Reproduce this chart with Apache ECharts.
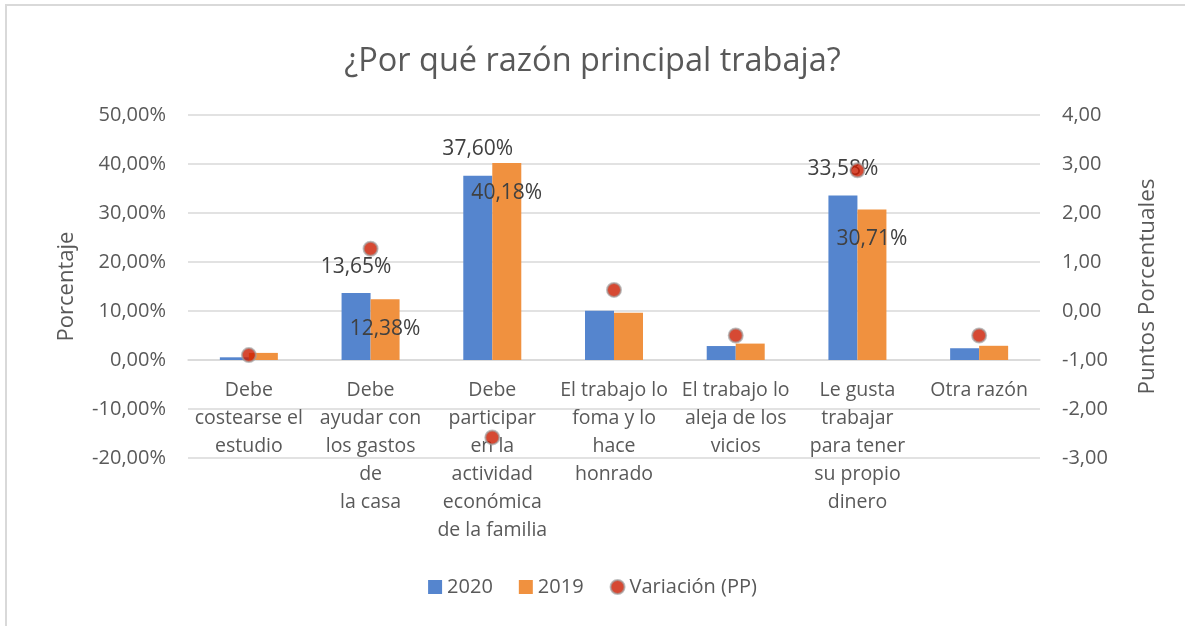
<!DOCTYPE html>
<html>
<head>
  <meta charset="utf-8">
  <title>ECharts</title>
  <script src="https://cdn.jsdelivr.net/npm/echarts@6/dist/echarts.min.js"></script>
  <style>
    html, body { margin: 0; padding: 0; background: #fff; }
  </style>
</head>
<body>
<div id="main" style="width: 1185px;height: 626px"></div>
<script type="text/javascript">
  // categorias (con saltos de linea como en el original)
  var categorias = [
    'Debe\ncostearse el\nestudio',
    'Debe\nayudar con\nlos gastos\nde\nla casa',
    'Debe\nparticipar\nen la\nactividad\neconómica\nde la familia',
    'El trabajo lo\nfoma y lo\nhace\nhonrado',
    'El trabajo lo\naleja de los\nvicios',
    'Le gusta\ntrabajar\npara tener\nsu propio\ndinero',
    'Otra razón'
  ];
  var datos2020 = [0.55, 13.65, 37.60, 10.05, 2.85, 33.58, 2.40];
  var datos2019 = [1.45, 12.38, 40.18, 9.62, 3.35, 30.71, 2.90];
  var variacion = [-0.90, 1.27, -2.58, 0.43, -0.50, 2.87, -0.50];
  // solo estas categorias llevan etiqueta
  var conEtiqueta = [1, 2, 5];

  var gris = '#595959';
  var fuente = '"Open Sans", "Noto Sans", sans-serif';

  function pct(v) {
    return v.toFixed(2).replace('.', ',') + '%';
  }

  function barData(arr, label) {
    return arr.map(function (v, i) {
      var d = { value: v };
      if (conEtiqueta.indexOf(i) >= 0) {
        d.label = label;
      }
      return d;
    });
  }

  var myChart = echarts.init(document.getElementById('main'));

  var option = {
    backgroundColor: '#fff',
    textStyle: { fontFamily: fuente, color: gris },
    title: {
      text: '¿Por qué razón principal trabaja?',
      left: 'center',
      top: 40,
      textStyle: { fontFamily: fuente, fontSize: 32.5, fontWeight: 'normal', color: gris }
    },
    graphic: [{
      type: 'rect',
      shape: { x: 6, y: 5, width: 1220, height: 700 },
      style: { fill: 'none', stroke: '#D9D9D9', lineWidth: 2 },
      silent: true
    }],
    legend: {
      bottom: 24,
      left: 'center',
      itemGap: 26,
      itemWidth: 14,
      itemHeight: 14,
      textStyle: { fontFamily: fuente, fontSize: 20, color: gris },
      data: [
        { name: '2020', icon: 'rect' },
        { name: '2019', icon: 'rect' },
        { name: 'Variación (PP)', icon: 'circle' }
      ]
    },
    grid: { left: 188, right: 145, top: 115, bottom: 168, outerBoundsMode: 'none' },
    xAxis: {
      type: 'category',
      data: categorias,
      offset: -98,
      axisLine: { onZero: false, lineStyle: { color: '#D9D9D9', width: 1.5 } },
      axisTick: { show: false },
      axisLabel: {
        interval: 0,
        color: gris,
        fontFamily: fuente,
        fontSize: 19.5,
        lineHeight: 28,
        margin: 16
      }
    },
    yAxis: [{
      type: 'value',
      min: -20,
      max: 50,
      interval: 10,
      name: 'Porcentaje',
      nameLocation: 'middle',
      nameGap: 110,
      nameTextStyle: { fontFamily: fuente, fontSize: 22, color: gris },
      axisLabel: { formatter: pct, color: gris, fontFamily: fuente, fontSize: 20, margin: 22 },
      splitLine: { lineStyle: { color: '#D9D9D9', width: 1.5 } },
      axisLine: { show: false },
      axisTick: { show: false }
    }, {
      type: 'value',
      min: -3,
      max: 4,
      interval: 1,
      name: 'Puntos Porcentuales',
      nameLocation: 'middle',
      nameGap: 96,
      nameTextStyle: { fontFamily: fuente, fontSize: 22.5, color: gris },
      axisLabel: {
        formatter: function (v) { return v.toFixed(2).replace('.', ','); },
        color: gris, fontFamily: fuente, fontSize: 20, margin: 22
      },
      splitLine: { show: false },
      axisLine: { show: false },
      axisTick: { show: false }
    }],
    series: [{
      name: '2020',
      type: 'bar',
      barWidth: 29,
      barGap: '0%',
      itemStyle: { color: '#5585CE' },
      data: barData(datos2020, {
        show: true, position: 'top', offset: [0, -11],
        formatter: function (p) { return pct(p.value); },
        fontFamily: fuente, fontSize: 21, color: '#404040'
      })
    }, {
      name: '2019',
      type: 'bar',
      barWidth: 29,
      itemStyle: { color: '#F0913F' },
      data: barData(datos2019, {
        show: true, position: 'insideTop', offset: [0, 14],
        formatter: function (p) { return pct(p.value); },
        fontFamily: fuente, fontSize: 21, color: '#404040'
      })
    }, {
      name: 'Variación (PP)',
      type: 'scatter',
      yAxisIndex: 1,
      symbolSize: 14,
      z: 5,
      itemStyle: {
        color: '#CC1C00',
        borderColor: 'rgba(160,160,160,0.85)',
        borderWidth: 2
      },
      data: variacion
    }]
  };

  myChart.setOption(option);
</script>
</body>
</html>
